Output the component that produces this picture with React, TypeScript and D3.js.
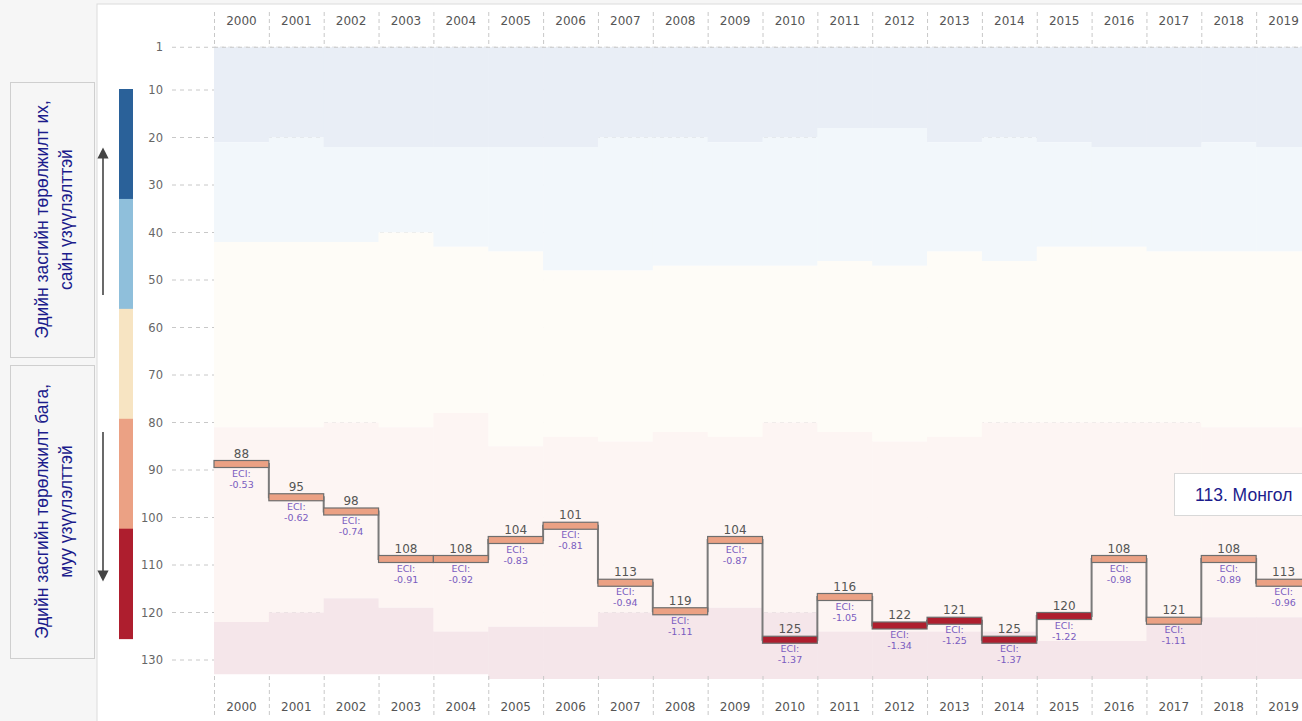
import React, { useRef, useEffect } from 'react';
import * as d3 from 'd3';

// years on the x axis
const years = [2000, 2001, 2002, 2003, 2004, 2005, 2006, 2007, 2008, 2009,
  2010, 2011, 2012, 2013, 2014, 2015, 2016, 2017, 2018, 2019];

// Mongolia's ECI rank and value
const ranks = [88, 95, 98, 108, 108, 104, 101, 113, 119, 104,
  125, 116, 122, 121, 125, 120, 108, 121, 108, 113];
const eci = [-0.53, -0.62, -0.74, -0.91, -0.92, -0.83, -0.81, -0.94, -1.11, -0.87,
  -1.37, -1.05, -1.34, -1.25, -1.37, -1.22, -0.98, -1.11, -0.89, -0.96];

// rank boundaries of the background groups, per year
const bound1 = [21, 20, 22, 22, 22, 22, 22, 20, 20, 21, 20, 18, 18, 21, 20, 21, 22, 22, 21, 22];
const bound2 = [42, 42, 42, 40, 43, 44, 48, 48, 47, 47, 47, 46, 47, 44, 46, 43, 43, 44, 44, 44];
const bound3 = [81, 81, 80, 81, 78, 85, 83, 84, 82, 83, 80, 82, 84, 83, 80, 80, 80, 80, 81, 81];
const bound4 = [122, 120, 117, 119, 124, 123, 123, 120, 120, 119, 120, 124, 124, 124, 124, 126, 126, 121, 121, 121];
const totals = [133, 133, 133, 133, 133, 134, 134, 134, 134, 134, 134, 134, 134, 134, 134, 134, 134, 134, 134, 134];

const rankTicks = [1, 10, 20, 30, 40, 50, 60, 70, 80, 90, 100, 110, 120, 130];

const bandColors = ['#e9eef6', '#f2f7fb', '#fefcf7', '#fdf5f3', '#f5e6ea'];
const scaleColors = ['#2a6199', '#8fbfdb', '#f7e4c2', '#eba184', '#ae1e2e'];

const App: React.FC = () => {
  const svgRef = useRef<SVGSVGElement | null>(null);

  useEffect(() => {
    const svg = d3.select(svgRef.current);
    svg.selectAll('*').remove();

    const W = 1302, H = 721;
    svg.attr('width', W).attr('height', H);

    const x = d3.scaleBand<number>().domain(years).range([214, 1311]).padding(0);
    const y = d3.scaleLinear().domain([1, 130]).range([47.25, 660]);
    const bw = x.bandwidth();
    const font = '"DejaVu Sans", Verdana, sans-serif';

    // page + panel
    svg.append('rect').attr('width', W).attr('height', H).attr('fill', '#f6f6f6');
    svg.append('rect').attr('x', 97).attr('y', 4).attr('width', W).attr('height', H)
      .attr('fill', '#fff').attr('stroke', '#dcdcdc');

    // left text boxes
    const boxes = [
      { y0: 82, y1: 357, lines: ['Эдийн засгийн төрөлжилт их,', 'сайн үзүүлэлттэй'] },
      { y0: 365, y1: 658, lines: ['Эдийн засгийн төрөлжилт бага,', 'муу үзүүлэлттэй'] },
    ];
    boxes.forEach(b => {
      svg.append('rect').attr('x', 10.5).attr('y', b.y0 + 0.5).attr('width', 84).attr('height', b.y1 - b.y0)
        .attr('fill', '#f6f6f6').attr('stroke', '#cfcfcf');
      const cy = (b.y0 + b.y1) / 2;
      b.lines.forEach((t, i) => {
        svg.append('text')
          .attr('transform', `translate(${48 + i * 24},${cy}) rotate(-90)`)
          .attr('text-anchor', 'middle')
          .attr('font-family', '"Liberation Sans", Arial, sans-serif')
          .attr('font-size', 17.5)
          .attr('fill', '#1c1c8c')
          .text(t);
      });
    });

    // arrows
    const defs = svg.append('defs');
    defs.append('marker').attr('id', 'ah').attr('viewBox', '0 0 10 10')
      .attr('refX', 5).attr('refY', 5).attr('markerWidth', 7).attr('markerHeight', 7)
      .attr('orient', 'auto-start-reverse')
      .append('path').attr('d', 'M0,0L10,5L0,10z').attr('fill', '#444');
    svg.append('line').attr('x1', 103).attr('x2', 103).attr('y1', 295).attr('y2', 153)
      .attr('stroke', '#444').attr('stroke-width', 1.6).attr('marker-end', 'url(#ah)');
    svg.append('line').attr('x1', 103).attr('x2', 103).attr('y1', 432).attr('y2', 576)
      .attr('stroke', '#444').attr('stroke-width', 1.6).attr('marker-end', 'url(#ah)');

    // colour scale bar
    const segTop = y(10) - 1, segBot = y(125.5);
    const segH = (segBot - segTop) / scaleColors.length;
    scaleColors.forEach((c, i) => {
      svg.append('rect').attr('x', 119).attr('y', segTop + i * segH)
        .attr('width', 14).attr('height', segH + 0.5).attr('fill', c);
    });

    // gridlines + y labels
    rankTicks.forEach(t => {
      svg.append('line').attr('x1', 172).attr('x2', W).attr('y1', y(t)).attr('y2', y(t))
        .attr('stroke', '#c8c8c8').attr('stroke-dasharray', '4,4');
      svg.append('text').attr('x', 163).attr('y', y(t) + 4)
        .attr('text-anchor', 'end').attr('font-family', font)
        .attr('font-size', 11.5).attr('fill', '#666').text(t);
    });

    // background groups per year
    years.forEach((yr, i) => {
      const edges = [1, bound1[i], bound2[i], bound3[i], bound4[i], totals[i]];
      for (let k = 0; k < 5; k++) {
        svg.append('rect').attr('x', x(yr)!).attr('y', y(edges[k]))
          .attr('width', bw + 0.5).attr('height', y(edges[k + 1]) - y(edges[k]))
          .attr('fill', bandColors[k]);
      }
    });

    // year separators and labels (top and bottom)
    years.forEach(yr => {
      const x0 = x(yr)!;
      [[12, 46], [676, 716]].forEach(([a, b]) => {
        svg.append('line').attr('x1', x0 + 0.5).attr('x2', x0 + 0.5).attr('y1', a).attr('y2', b)
          .attr('stroke', '#c8c8c8').attr('stroke-dasharray', '4,3');
      });
      [25, 711].forEach(ty => {
        svg.append('text').attr('x', x0 + bw / 2).attr('y', ty)
          .attr('text-anchor', 'middle').attr('font-family', font)
          .attr('font-size', 12).attr('fill', '#555').text(yr);
      });
    });
    svg.append('line').attr('x1', 214).attr('x2', W).attr('y1', y(1)).attr('y2', y(1))
      .attr('stroke', '#c8c8c8').attr('stroke-dasharray', '4,4');

    // step line
    const pts: [number, number][] = years.map((yr, i) => [x(yr)!, y(ranks[i]) + 3.5]);
    pts.push([x(years[years.length - 1])! + bw, y(ranks[ranks.length - 1]) + 3.5]);
    const line = d3.line<[number, number]>().x(d => d[0]).y(d => d[1]).curve(d3.curveStepAfter);
    svg.append('path').attr('d', line(pts)).attr('fill', 'none')
      .attr('stroke', '#7a7a7a').attr('stroke-width', 2);

    // bars + labels
    years.forEach((yr, i) => {
      const x0 = x(yr)!;
      const yy = y(ranks[i]);
      svg.append('rect').attr('x', x0).attr('y', yy).attr('width', bw).attr('height', 7)
        .attr('fill', eci[i] <= -1.2 ? '#ae1e2e' : '#eba184')
        .attr('stroke', '#6e6e6e').attr('stroke-width', 1.2);
      svg.append('text').attr('x', x0 + bw / 2).attr('y', yy - 3)
        .attr('text-anchor', 'middle').attr('font-family', font)
        .attr('font-size', 12).attr('fill', '#555').text(ranks[i]);
      ['ECI:', eci[i].toFixed(2)].forEach((t, j) => {
        svg.append('text').attr('x', x0 + bw / 2).attr('y', yy + 16 + j * 11)
          .attr('text-anchor', 'middle').attr('font-family', font)
          .attr('font-size', 9.5).attr('fill', '#7a5cc0').text(t);
      });
    });

    // legend box
    svg.append('rect').attr('x', 1174.5).attr('y', 473.5).attr('width', 150).attr('height', 42)
      .attr('fill', '#fff').attr('stroke', '#d8d8d8');
    svg.append('text').attr('x', 1195).attr('y', 501)
      .attr('font-family', '"Liberation Sans", Arial, sans-serif')
      .attr('font-size', 17.5).attr('fill', '#1c1c8c').text('113. Монгол');
  }, []);

  return (
    <div>
      <svg ref={svgRef} style={{ position: 'absolute', left: 0, top: 0 }}></svg>
    </div>
  );
};

export default App;
